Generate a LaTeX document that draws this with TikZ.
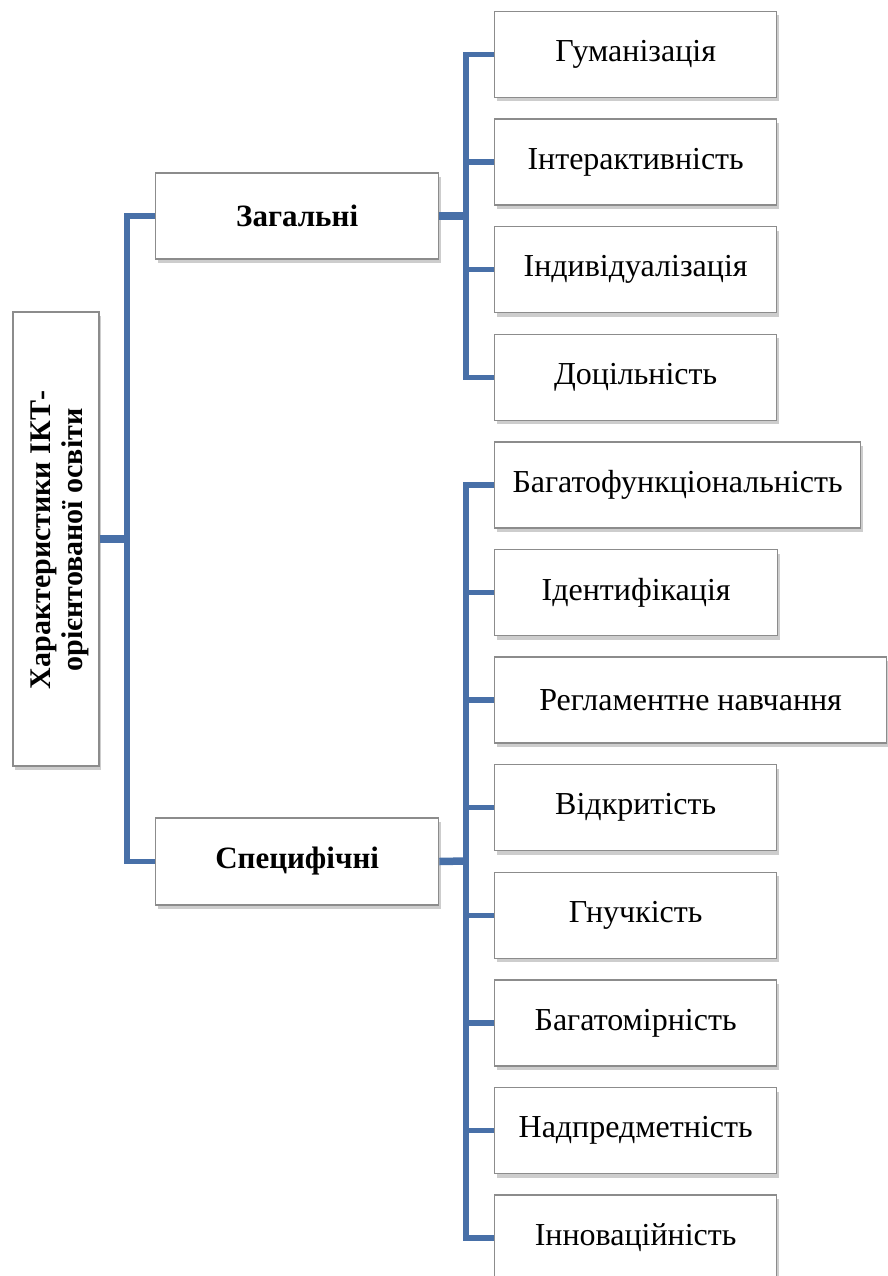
\documentclass[tikz,border=0pt]{standalone}
\usepackage{fontspec}
\setmainfont{Liberation Serif}
\usetikzlibrary{shadows}
\definecolor{conn}{RGB}{72,112,168}
\definecolor{bord}{RGB}{140,140,140}
\tikzset{
  box/.style={draw=bord, line width=1.3pt, fill=white, minimum height=86pt,
    inner sep=0pt, align=center, font=\fontsize{32}{35}\selectfont,
    drop shadow={shadow xshift=2pt, shadow yshift=-4pt, opacity=0.28, fill=black!70}},
  leaf/.style={box, anchor=west, minimum width=282pt},
  mid/.style={box, anchor=west, minimum width=283pt, font=\fontsize{31}{34}\selectfont\bfseries},
  link/.style={draw=conn, line width=5.5pt},
  thick link/.style={draw=conn, line width=7.5pt},
}
\begin{document}
\begin{tikzpicture}[x=1pt,y=-1pt]
\useasboundingbox (0,0) rectangle (888,1276);
\clip (0,0) rectangle (888,1276);

\coordinate (lj) at (127,539);
\coordinate (rz) at (466,216);
\coordinate (rs) at (466,861);

% root
\node[box, minimum width=86pt, minimum height=454pt] (root) at (56,539) {};
\node[rotate=90, align=center, inner sep=0pt,
  font=\fontsize{30}{32}\selectfont\bfseries] (roottext) at (60,540)
  {Характеристики ІКТ-\\орієнтованої освіти};

% groups
\node[mid] (zag) at (155,216) {Загальні};
\node[mid, minimum height=87pt] (spec) at (155,861.5) {Специфічні};

% general leaves
\node[leaf] (g1) at (494,54.5) {Гуманізація};
\node[leaf] (g2) at (494,162.1) {Інтерактивність};
\node[leaf] (g3) at (494,269.7) {Індивідуалізація};
\node[leaf] (g4) at (494,377.3) {Доцільність};

% specific leaves
\node[leaf, minimum width=366pt] (s1) at (494,484.9) {Багатофункціональність};
\node[leaf, minimum width=283pt] (s2) at (494,592.5) {Ідентифікація};
\node[leaf, minimum width=392pt] (s3) at (494,700.1) {Регламентне навчання};
\node[leaf] (s4) at (494,807.7) {Відкритість};
\node[leaf] (s5) at (494,915.3) {Гнучкість};
\node[leaf] (s6) at (494,1022.9) {Багатомірність};
\node[leaf] (s7) at (494,1130.5) {Надпредметність};
\node[leaf] (s8) at (494,1238.1) {Інноваційність};

% connectors
\draw[link] (zag.west) -| (lj) |- (spec.west);
\draw[line width=8.5pt, draw=conn] (root.east) -- (lj);

\draw[link] (g1.west) -| (rz) |- (g4.west);
\draw[link] (g2.west -| rz) -- (g2.west);
\draw[link] (g3.west -| rz) -- (g3.west);
\draw[thick link] (zag.east) -- (rz);

\draw[link] (s1.west) -| (rs) |- (s8.west);
\foreach \n in {s2,s3,s4,s5,s6,s7}
  \draw[link] (\n.west -| rs) -- (\n.west);
\draw[thick link] (spec.east) -- (rs);
\end{tikzpicture}
\end{document}
